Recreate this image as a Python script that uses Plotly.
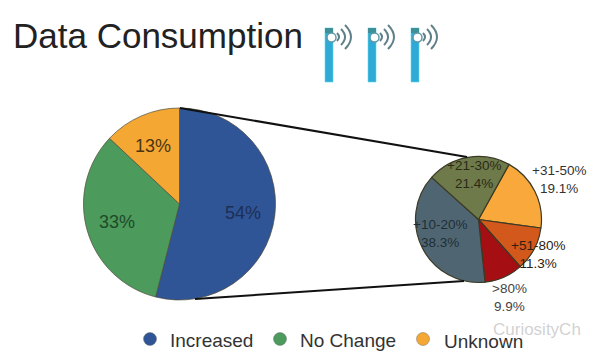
import plotly.graph_objects as go

main_labels = ["Increased", "No Change", "Unknown"]
main_values = [54, 33, 13]
main_colors = ["#2F5597", "#4C9A5C", "#F5A733"]

sub_labels = ["+31-50%", "+51-80%", ">80%", "+10-20%", "+21-30%"]
sub_values = [19.1, 11.3, 9.9, 38.3, 21.4]
sub_colors = ["#F9A93C", "#D2581B", "#A50F14", "#4F6672", "#6E7A4A"]

W, H = 600, 358


def dom(cx, cy, r):
    return dict(x=[(cx - r) / W, (cx + r) / W], y=[1 - (cy + r) / H, 1 - (cy - r) / H])


fig = go.Figure()

# Legend dots
fig.add_trace(go.Scatter(
    x=[150, 280, 423], y=[339, 339, 339], mode="markers",
    marker=dict(size=13, color=main_colors, line=dict(width=1, color="rgba(90,90,90,0.4)")),
    showlegend=False, hoverinfo="skip",
))

fig.add_trace(go.Pie(
    labels=main_labels, values=main_values, sort=False, direction="clockwise", rotation=0,
    marker=dict(colors=main_colors, line=dict(color="#4a4a3a", width=0.7)),
    textinfo="none", domain=dom(179.5, 204, 96), showlegend=False,
))
fig.add_trace(go.Pie(
    labels=sub_labels, values=sub_values, sort=False, direction="clockwise", rotation=29,
    marker=dict(colors=sub_colors, line=dict(color="#3b3a25", width=1.2)),
    textinfo="none", domain=dom(478.5, 219.5, 63), showlegend=False,
))

shapes = [
    dict(type="line", x0=180, y0=108, x1=467, y1=157, line=dict(color="#111", width=2)),
    dict(type="line", x0=195, y0=299, x1=464, y1=281, line=dict(color="#111", width=2)),
]
# Antenna icons
for x in [329, 372, 415]:
    shapes.append(dict(type="rect", x0=x - 4, x1=x + 4, y0=28, y1=82, fillcolor="#2FA9D6",
                       line=dict(color="rgba(90,220,235,0.6)", width=1)))
    shapes.append(dict(type="rect", x0=x - 4, x1=x + 4, y0=28, y1=33, fillcolor="#3F8F96",
                       line=dict(width=0)))
    shapes.append(dict(type="circle", x0=x - 2, x1=x + 7, y0=33, y1=42, fillcolor="white",
                       line=dict(color="#5E9AA8", width=1.5)))
    for dx, dy in [(8, 4), (12, 8), (16, 12)]:
        shapes.append(dict(type="path",
                           path=f"M {x + dx} {37 - dy} Q {x + dx + dy * 1.0} 37 {x + dx} {37 + dy}",
                           line=dict(color="#5F8088", width=2)))

anns = []


def text(x, y, s, size, color="#2b2b2b", anchor="center", family="Liberation Sans"):
    anns.append(dict(x=x, y=y, text=s, showarrow=False, xanchor=anchor, yanchor="middle",
                     font=dict(size=size, color=color, family=family), align="center"))


text(11, 35, "Data Consumption", 35, "#222222", "left")
text(243, 213, "54%", 18, "#1d2f55")
text(117, 222, "33%", 18, "#1f4a28")
text(153, 146, "13%", 18, "#4a3612")
text(474, 174, "+21-30%<br>21.4%", 13.5, "#2a2a16")
text(440, 233, "+10-20%<br>38.3%", 13.5, "#1f2e36")
text(559, 179, "+31-50%<br>19.1%", 13.5, "#333333")
text(538, 254, "+51-80%<br>11.3%", 13.5, "#2e2010")
text(509, 297, ">80%<br>9.9%", 13.5, "#444444")
text(168, 340, "Increased", 19, "#333333", "left")
text(298, 340, "No Change", 19, "#333333", "left")
text(442, 341, "Unknown", 19, "#333333", "left")
text(491, 329, "CuriosityCh", 17, "rgba(170,170,170,0.55)", "left")

fig.update_layout(
    width=W, height=H, margin=dict(l=0, r=0, t=0, b=0),
    paper_bgcolor="white", plot_bgcolor="white",
    xaxis=dict(visible=False, range=[0, W], domain=[0, 1], fixedrange=True),
    yaxis=dict(visible=False, range=[H, 0], domain=[0, 1], fixedrange=True),
    shapes=shapes, annotations=anns, showlegend=False,
)
fig.write_html("out.html", config={"displayModeBar": False},
               post_script="document.body.style.margin='0';document.body.style.overflow='hidden';")
